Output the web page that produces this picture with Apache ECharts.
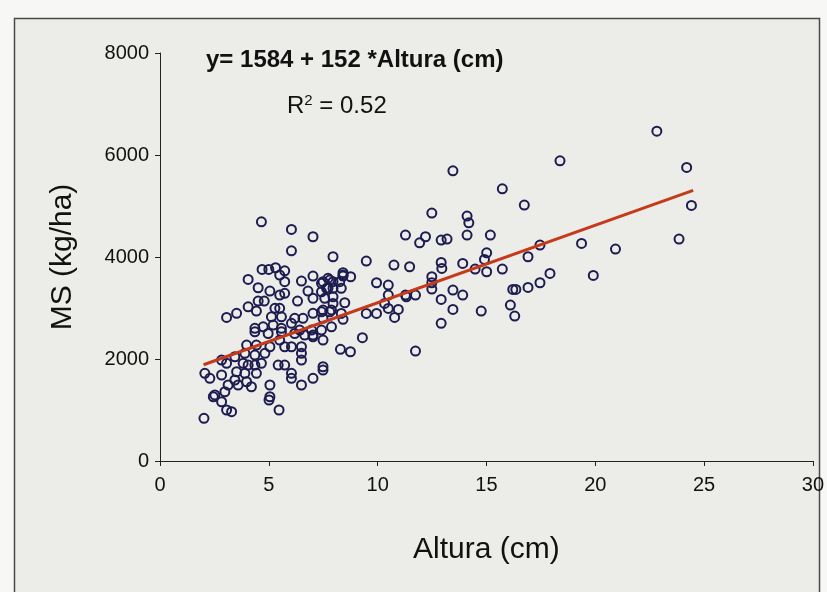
<!DOCTYPE html>
<html>
<head>
<meta charset="utf-8">
<script src="https://cdn.jsdelivr.net/npm/echarts@6/dist/echarts.min.js"></script>
<style>
html,body{margin:0;padding:0;background:#f7f7f5;}
#c{width:827px;height:592px;}
</style>
</head>
<body>
<div id="c"></div>
<script>
// Observed points: [Altura (cm), MS (kg/ha)]
const pointsRight = [
[22.83,6468],[18.38,5886],[24.2,5756],[13.46,5690],[15.73,5337],[16.74,5018],[24.42,5011],[12.49,4861],
[14.11,4802],[14.19,4671],[7.03,4397],[11.28,4430],[12.2,4397],[11.93,4279],[12.92,4332],[13.19,4351],
[14.11,4430],[15.18,4430],[23.85,4351],[19.37,4266],[20.93,4155],[17.46,4234],[7.95,4005],[9.48,3920],
[15.01,4083],[14.91,3953],[16.91,4005],[12.92,3894],[12.95,3776],[13.91,3874],[10.75,3842],[11.47,3809],
[14.48,3763],[15.01,3711],[15.73,3763],[19.91,3639],[17.92,3678],[17.46,3495],[16.91,3404],[16.21,3365],
[16.35,3365],[16.1,3058],[16.3,2842],[14.76,2940],[13.46,3352],[13.91,3254],[13.46,2973],[12.92,3169],
[12.92,2699],[12.49,3613],[12.49,3495],[12.49,3371],[11.74,3254],[11.28,3254],[11.32,3220],[10.49,3450],
[9.95,3495],[10.49,3254],[10.32,3090],[10.49,2992],[10.95,2973],[10.78,2816],[9.95,2894],[9.48,2894],
[9.3,2417],[11.74,2156],[8.41,3626],[8.76,3613],[7.03,3626],[7.8,3548]
];
const pointsUpperLeft = [
[4.66,4690],[6.04,4541],[6.04,4122],
[4.69,3757],[5.0,3757],[5.31,3789],[5.73,3730],[4.05,3561],[5.5,3646],[5.73,3515],[6.5,3528],
[7.42,3483],[7.72,3385],[4.51,3397],[5.05,3332],[5.5,3254],[5.73,3287],[6.8,3332],[6.32,3136],
[7.03,3189],[7.42,3318],[7.57,3189],[4.51,3136],[4.79,3136],[4.05,3024],[4.43,2940],[3.52,2895],
[3.06,2816],[5.28,2993],[5.5,2993],[5.12,2828],[5.58,2828],[7.03,2895],[7.42,2926],[7.88,2960],
[6.19,2797],[6.57,2797],
[4.36,2601],[4.74,2632],[5.2,2666],[5.58,2601],[6.04,2699],[6.96,2568],[7.42,2568],[7.88,2632],
[7.72,3581],[7.95,3515],[8.41,3646],[7.49,3515],[7.65,3385],[7.95,3385],[8.33,3385],[8.26,3515],
[7.95,3220],[7.95,3090],[8.49,3103],[7.49,2960],[7.8,2926],[8.33,2894],[8.41,2777],[7.49,2797],
[8.41,3691],[6.42,2568]
];
const pointsLowerLeft = [
[4.36,2534],[4.97,2500],[5.58,2534],[6.19,2500],[6.65,2470],[7.03,2470],[7.49,2372],[3.98,2274],
[4.43,2274],[5.05,2240],[5.5,2372],[5.73,2240],[6.04,2240],[6.5,2240],[6.5,2111],[6.5,1980],
[3.9,2111],[4.36,2078],[4.82,2111],[3.44,2044],[2.83,1980],[3.06,1915],[3.82,1915],[4.05,1882],
[4.36,1882],[4.66,1915],[5.43,1882],[5.73,1882],[2.06,1719],[2.29,1621],[2.83,1686],[3.52,1750],
[3.9,1719],[3.44,1588],[3.98,1554],[4.43,1719],[3.13,1490],[2.98,1358],[3.59,1490],[4.2,1456],
[5.05,1490],[6.04,1719],[6.04,1621],[6.5,1490],[7.03,1621],[7.49,1784],[5.05,1260],[2.52,1294],
[2.45,1260],[2.83,1162],[3.06,1000],[3.29,966],[2.02,837],[5.01,1196],[5.47,1000],
[8.29,2189],[8.75,2142],[7.49,1848],[7.03,2436]
];
// Fitted line end points
const fitLine = [[2,1888],[24.5,5308]];
const xTicks = [0,5,10,15,20,25,30];
const yTicks = [0,2000,4000,6000,8000];
const equationText = 'y= 1584 + 152 *Altura (cm)';
const r2Text = '0.52';

const chart = echarts.init(document.getElementById('c'), null, {renderer:'canvas'});
const font = 'Liberation Sans, Arial, sans-serif';
chart.setOption({
  backgroundColor: 'transparent',
  animation: false,
  graphic: [
    {type:'rect', z:-10, silent:true, shape:{x:14.5,y:18.5,width:805,height:580},
     style:{fill:'#ececE8', stroke:'#4a4a4a', lineWidth:1.5}},
    {type:'text', left:206, top:48, style:{text:equationText, font:'bold 24px '+font, fill:'#111'}},
    {type:'text', left:287, top:93, style:{text:'R{s|2} = '+r2Text, font:'24px '+font, fill:'#111',
      rich:{s:{fontSize:15, verticalAlign:'top', padding:[0,0,11,0], fontFamily:font}}}}
  ],
  grid: {left:160, right:13, top:53, bottom:131},
  xAxis: {
    type:'value', min:xTicks[0], max:xTicks[xTicks.length-1], interval:5,
    name:'Altura (cm)', nameLocation:'middle', nameGap:74,
    nameTextStyle:{fontSize:30, color:'#111', fontFamily:font},
    axisLine:{show:true, lineStyle:{color:'#222', width:1}},
    axisTick:{show:true, length:5, lineStyle:{color:'#222'}},
    axisLabel:{fontSize:20, color:'#111', fontFamily:font, margin:14},
    splitLine:{show:false}
  },
  yAxis: {
    type:'value', min:yTicks[0], max:yTicks[yTicks.length-1], interval:2000,
    name:'MS (kg/ha)', nameLocation:'middle', nameGap:82,
    nameTextStyle:{fontSize:30, color:'#111', fontFamily:font},
    axisLine:{show:true, lineStyle:{color:'#222', width:1}},
    axisTick:{show:true, length:5, lineStyle:{color:'#222'}},
    axisLabel:{fontSize:20, color:'#111', fontFamily:font, margin:11, formatter: v => String(v)},
    splitLine:{show:false}
  },
  series: [
    {type:'scatter', data: pointsRight.concat(pointsUpperLeft, pointsLowerLeft), symbol:'circle', symbolSize:9,
     itemStyle:{color:'rgba(0,0,0,0)', borderColor:'#1d1c50', borderWidth:2, opacity:1}, z:2},
    {type:'line', data: fitLine, symbol:'none', lineStyle:{color:'#c63a1c', width:3}, z:3}
  ]
});
</script>
</body>
</html>
